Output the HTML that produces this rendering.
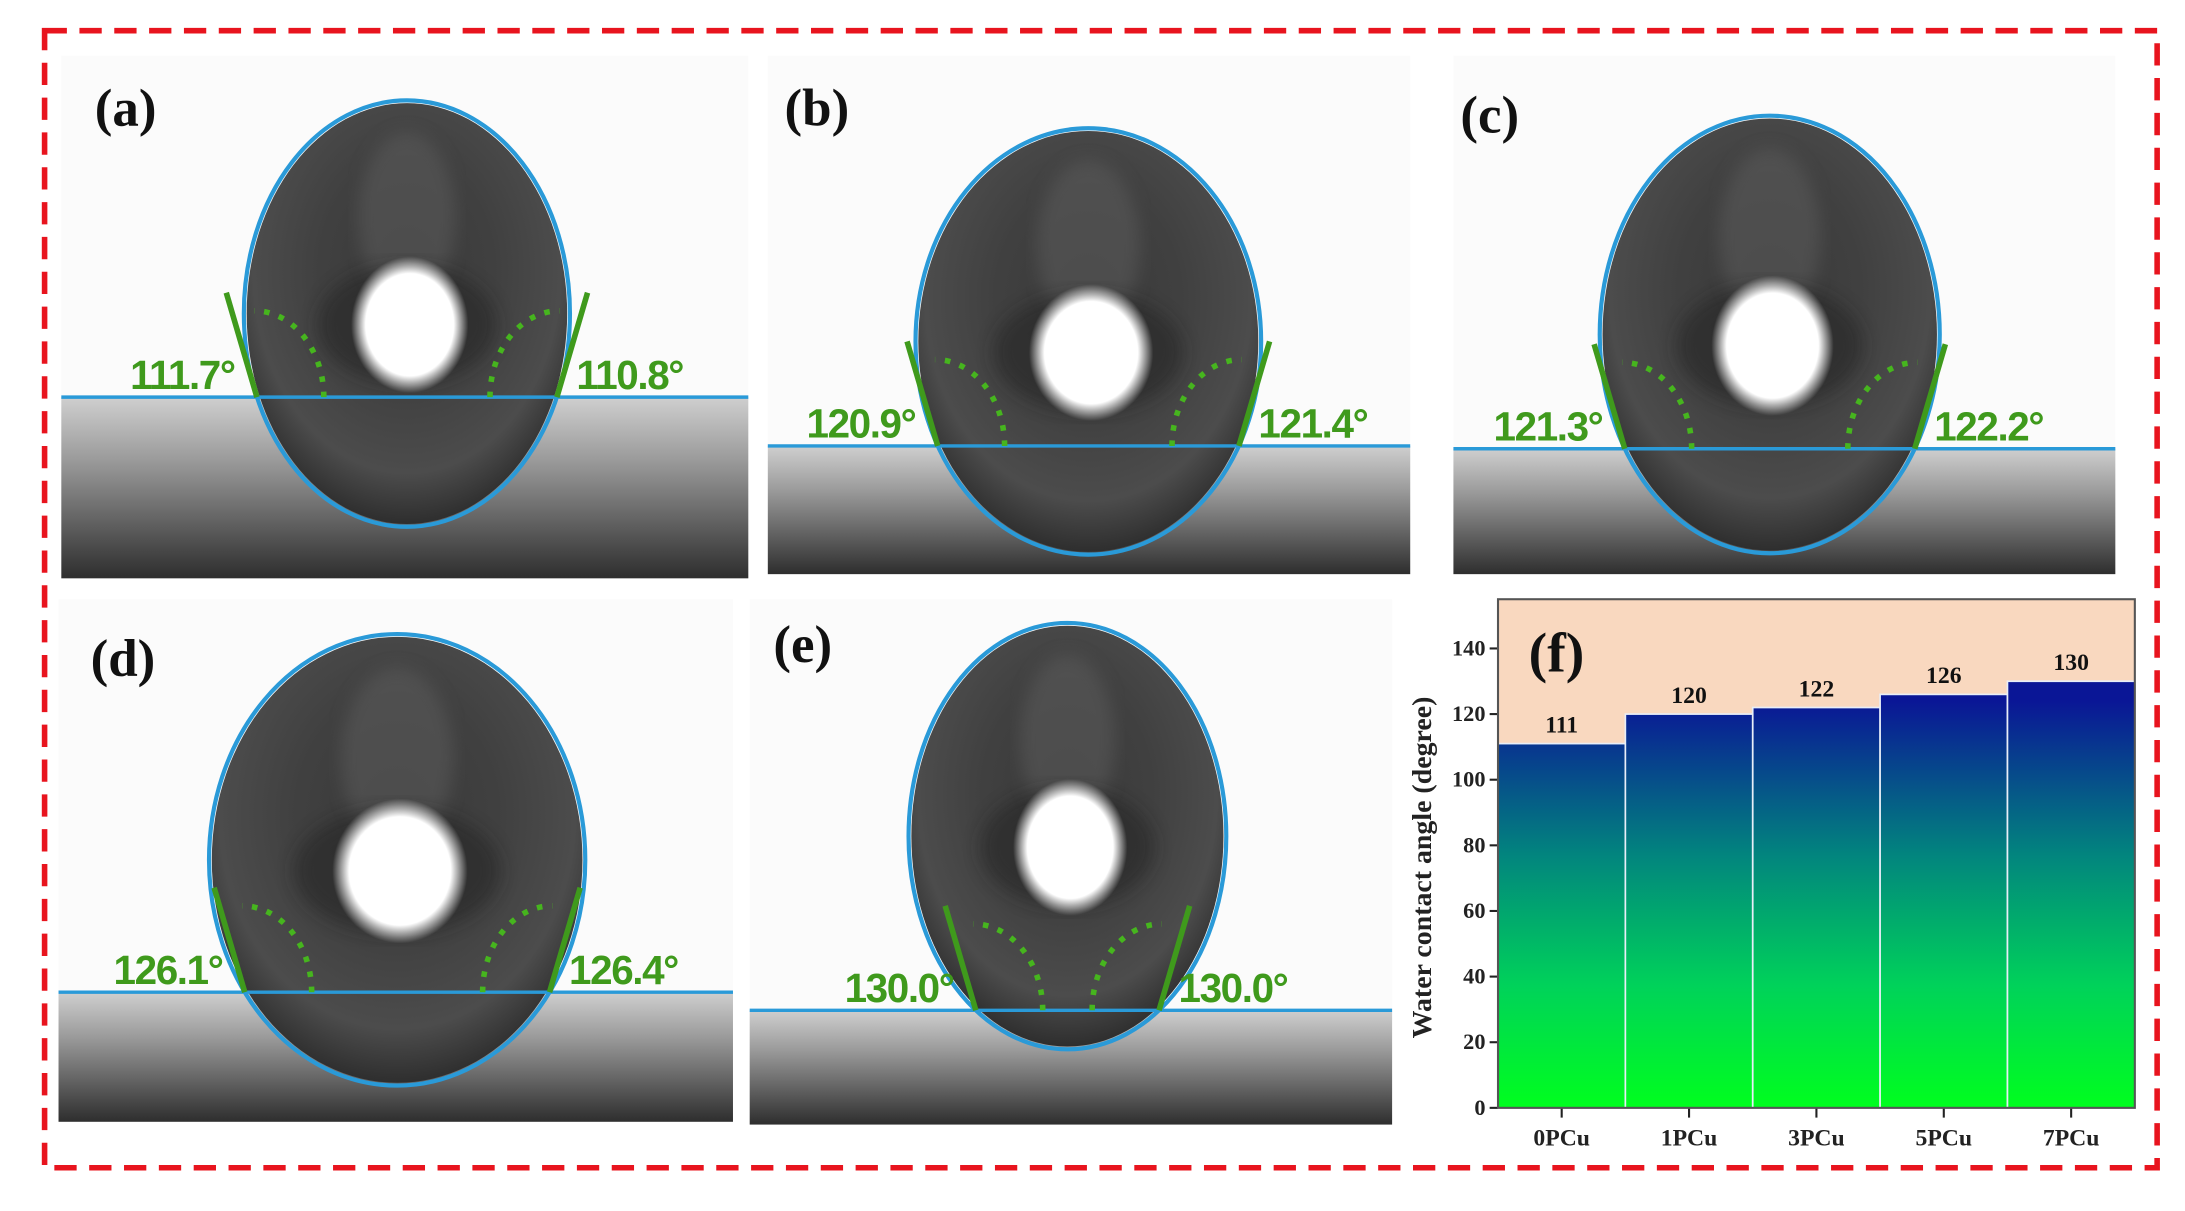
<!DOCTYPE html>
<html><head><meta charset="utf-8">
<style>
html,body{margin:0;padding:0;background:#fff;}
svg{display:block;}
text{font-family:"Liberation Serif",serif;}
.ang{font-family:"Liberation Sans",sans-serif;font-weight:bold;fill:#3f9a1c;font-size:29px;letter-spacing:-1px;}
.lab{font-weight:bold;font-size:38px;fill:#111;}
</style></head>
<body>
<svg id="fig" width="2185" height="1211" viewBox="0 0 1568 869" xmlns="http://www.w3.org/2000/svg">
<defs>
<linearGradient id="ground" x1="0" y1="0" x2="0" y2="1">
<stop offset="0" stop-color="#cfcfcf"/><stop offset="0.35" stop-color="#9a9a9a"/><stop offset="1" stop-color="#2e2e2e"/>
</linearGradient>
<radialGradient id="dropg" cx="0.5" cy="0.4" r="0.6">
<stop offset="0" stop-color="#3a3a3a"/><stop offset="0.45" stop-color="#404040"/><stop offset="0.8" stop-color="#4c4c4c"/><stop offset="1" stop-color="#2e2e2e"/>
</radialGradient>
<radialGradient id="hl" cx="0.5" cy="0.5" r="0.5">
<stop offset="0" stop-color="#fff"/><stop offset="0.75" stop-color="#fff"/><stop offset="1" stop-color="#fff" stop-opacity="0"/>
</radialGradient>
<filter id="blur"><feGaussianBlur stdDeviation="6"/></filter>
</defs>
<rect x="32" y="22" width="1516" height="816" fill="none" stroke="#e8141e" stroke-width="4" stroke-dasharray="16,9"/>
<g id="photos"></g>
<g id="chart"></g>
</svg>
<script>
const panelLabels=["(a)","(b)","(c)","(d)","(e)"];
const leftAngles=["111.7°","120.9°","121.3°","126.1°","130.0°"];
const rightAngles=["110.8°","121.4°","122.2°","126.4°","130.0°"];
const boxes=[[44,40,493,375],[551,40,461,372],[1043,40,475,372],[42,430,484,375],[538,430,461,377]];
const groundY=[285,320,322,712,725];
const drops=[[292,225,117,153],[781,245,124,153],[1270,240,122,157],[285,617,135,162],[766,600,114,153]];
const labelPos=[[68,90],[563,90],[1048,95],[65,485],[555,475]];
const NS="http://www.w3.org/2000/svg";
function el(t,a,p){const e=document.createElementNS(NS,t);for(const k in a)e.setAttribute(k,a[k]);p.appendChild(e);return e;}
const ph=document.getElementById('photos');
for(let i=0;i<5;i++){
 const g=el('g',{},ph);
 
 
 const [bx,by,bw,bh]=boxes[i];const gy=groundY[i];const [cx,cy,rx,ry]=drops[i];
 el('rect',{x:bx,y:by,width:bw,height:bh,fill:'#fbfbfb'},g);
 const gr=el('rect',{x:bx,y:gy,width:bw,height:by+bh-gy,fill:'url(#ground)'},g);
 
 
 const d=el('ellipse',{cx:cx,cy:cy,rx:rx-2,ry:ry-2,fill:'url(#dropg)'},g);
 
 
 el('ellipse',{cx:cx,cy:cy-ry*0.45,rx:rx*0.3,ry:ry*0.4,fill:'#5e5e5e',filter:'url(#blur)',opacity:0.5},g);
 el('ellipse',{cx:cx,cy:cy+8,rx:rx*0.55,ry:ry*0.28,fill:'#222',filter:'url(#blur)',opacity:0.5},g);
 el('ellipse',{cx:cx+2,cy:cy+8,rx:rx*0.36,ry:ry*0.32,fill:'url(#hl)'},g);
 el('ellipse',{cx:cx,cy:cy,rx:rx,ry:ry,fill:'none',stroke:'#2a9ad8','stroke-width':3},g);
 el('line',{x1:bx,y1:gy,x2:bx+bw,y2:gy,stroke:'#2a9ad8','stroke-width':2.5},g);
 const dy=(gy-cy)/ry;const dxw=rx*Math.sqrt(Math.max(0,1-dy*dy));
 const xl=cx-dxw,xr=cx+dxw;
 el('line',{x1:xl,y1:gy,x2:xl-22,y2:gy-75,stroke:'#3f9a1c','stroke-width':4},g);
 el('line',{x1:xr,y1:gy,x2:xr+22,y2:gy-75,stroke:'#3f9a1c','stroke-width':4},g);
 el('path',{d:`M${xl+48},${gy} A50,62 0 0 0 ${xl-2},${gy-62}`,fill:'none',stroke:'#46b51e','stroke-width':4,'stroke-dasharray':'4,7'},g);
 el('path',{d:`M${xr-48},${gy} A50,62 0 0 1 ${xr+2},${gy-62}`,fill:'none',stroke:'#46b51e','stroke-width':4,'stroke-dasharray':'4,7'},g);
 const tl=el('text',{x:xl-16,y:gy-6,'text-anchor':'end',class:'ang'},g);tl.textContent=leftAngles[i];
 
 
 const tr=el('text',{x:xr+14,y:gy-6,class:'ang'},g);tr.textContent=rightAngles[i];
 
 
 const lb=el('text',{x:labelPos[i][0],y:labelPos[i][1],class:'lab'},g);lb.textContent=panelLabels[i];
 
 
}
</script>
<script>
const categories=["0PCu","1PCu","3PCu","5PCu","7PCu"];
const values=[111,120,122,126,130];
const valueLabels=["111","120","122","126","130"];
const yTicks=[0,20,40,60,80,100,120,140];
const Y_MAX=155;
(function(){
 const ch=document.getElementById('chart');
 const L=1075,R=1532,T=430,B=795;
 const y=v=>B-(v/Y_MAX)*(B-T);
 const bw=(R-L)/categories.length;
 const x=i=>L+i*bw;
 const bg=el('rect',{x:L,y:T,width:R-L,height:B-T,fill:'#f9d8bf'},ch);
 
 
 const grad=el('linearGradient',{id:'bg2',gradientUnits:'userSpaceOnUse',x1:0,y1:y(Y_MAX*0.8),x2:0,y2:B},document.querySelector('defs'));
 [['0','#0a1696'],['0.38','#02857e'],['0.7','#00d25a'],['1','#00ff1e']].forEach(s=>el('stop',{offset:s[0],'stop-color':s[1]},grad));
 categories.forEach((c,i)=>{
  const b=el('rect',{x:x(i),y:y(values[i]),width:bw,height:B-y(values[i]),fill:'url(#bg2)',stroke:'#e8eef8','stroke-width':1.2},ch);
  
  
  const t=el('text',{x:x(i)+bw/2,y:y(values[i])-8,'text-anchor':'middle','font-size':17,'font-weight':'bold',fill:'#111'},ch);
  t.textContent=valueLabels[i];
  
  
  el('line',{x1:x(i)+bw/2,y1:B,x2:x(i)+bw/2,y2:B+7,stroke:'#222','stroke-width':1.5},ch);
  const xl=el('text',{x:x(i)+bw/2,y:B+27,'text-anchor':'middle','font-size':17,'font-weight':'bold',fill:'#222'},ch);
  xl.textContent=c;
  
  
 });
 yTicks.forEach(v=>{
  el('line',{x1:L-6,y1:y(v),x2:L,y2:y(v),stroke:'#222','stroke-width':1.5},ch);
  const t=el('text',{x:L-9,y:y(v)+5,'text-anchor':'end','font-size':16,'font-weight':'bold',fill:'#222'},ch);
  t.textContent=v;
  
  
 });
 const fr=el('rect',{x:L,y:T,width:R-L,height:B-T,fill:'none',stroke:'#555','stroke-width':1.5},ch);
 
 
 const yt=el('text',{x:0,y:0,transform:`translate(1027,${(T+B)/2+10}) rotate(-90)`,'text-anchor':'middle','font-size':20,'font-weight':'bold',fill:'#222'},ch);
 yt.textContent='Water contact angle (degree)';
 
 
 const f=el('text',{x:1097,y:482,'font-size':40,'font-weight':'bold',fill:'#111'},ch);
 f.textContent='(f)';
 
 
})();
</script>
</body></html>
